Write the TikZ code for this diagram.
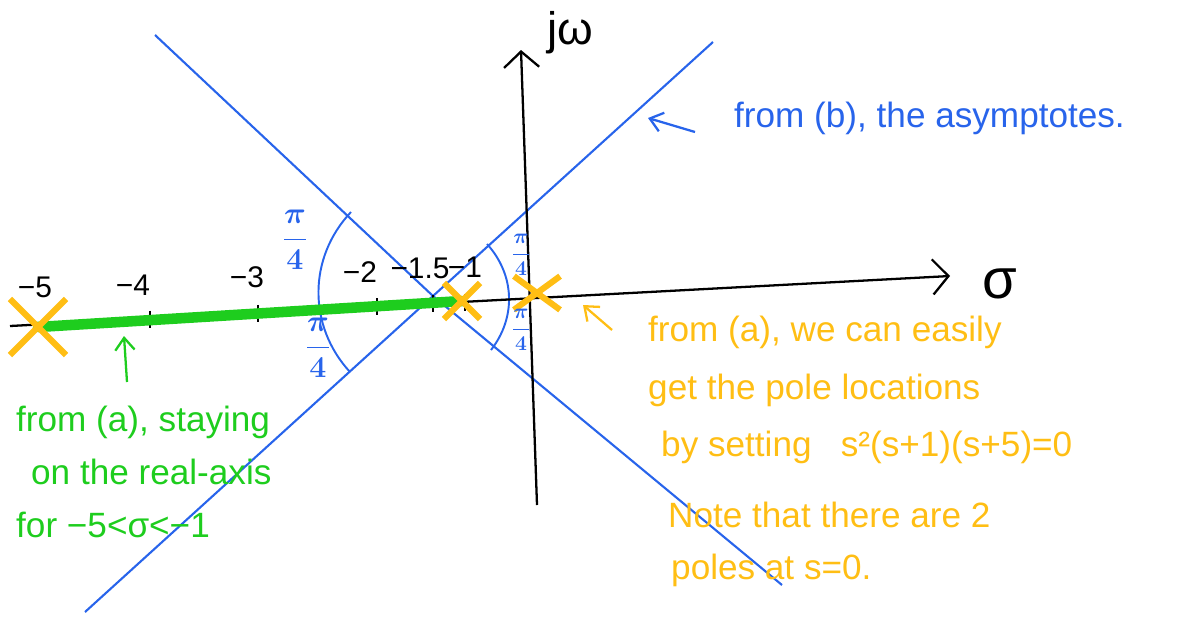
\documentclass[tikz,border=0pt]{standalone}
\usepackage{fontspec}
\setmainfont{Liberation Sans}
\usetikzlibrary{arrows.meta, shapes.misc, positioning}
\definecolor{penblue}{RGB}{40,100,235}
\definecolor{pengreen}{RGB}{30,205,30}
\definecolor{penorange}{RGB}{255,190,20}

\begin{document}
\begin{tikzpicture}[x=0.02cm, y=-0.02cm,
    axisline/.style={draw=black, line width=1.3pt},
    asymline/.style={draw=penblue, line width=1.2pt},
    anglearc/.style={draw=penblue, line width=1.1pt},
    locus/.style={draw=pengreen, line width=6pt, line cap=round},
    pole/.style={cross out, draw=penorange, line width=3.5pt, inner sep=0pt, minimum width=#1, minimum height=#1},
    hint/.style={line width=1.3pt, -{Straight Barb[length=7pt,width=11pt]}},
    note/.style={anchor=west, font=\fontsize{20}{24}\selectfont},
    ticklbl/.style={font=\fontsize{17}{20}\selectfont},
    anglelbl/.style={text=penblue, inner sep=0pt, font=\fontsize{#1}{#1}\selectfont\boldmath}
]
    \useasboundingbox (0,0) rectangle (1193,616);

    % Asymptotes from the centroid
    \coordinate (cent) at (433,296);
    \coordinate (asym1-a) at (155,35);
    \coordinate (asym1-b) at (782,585);
    \coordinate (asym2-a) at (85,612);
    \coordinate (asym2-b) at (713,42);
    \draw[asymline] (asym1-a) -- (cent) -- (asym1-b);
    \draw[asymline] (asym2-a) -- (cent) -- (asym2-b);

    % Angle arcs
    \coordinate (larc-a) at (351,212);
    \coordinate (larc-b) at (350,372);
    \coordinate (rarc-a) at (487,244);
    \coordinate (rarc-b) at (491,350);
    \draw[anglearc] (larc-a) to[bend right=43] (larc-b);
    \draw[anglearc] (rarc-a) to[bend left=40] (rarc-b);

    % Axes
    \coordinate (re-a) at (10,326);
    \coordinate (re-b) at (950,276);
    \coordinate (im-a) at (537,505);
    \coordinate (im-b) at (521,50);
    \draw[axisline, -{Straight Barb[length=9pt,width=20pt]}] (re-a) -- (re-b);
    \draw[axisline, -{Straight Barb[length=9pt,width=20pt]}] (im-a) -- (im-b);
    \node[font=\fontsize{32}{32}\selectfont] (sigma) at (1000,284) {σ};
    \node[font=\fontsize{26}{26}\selectfont] (jw) at (570,33) {jω};

    % Ticks and labels
    \foreach \x in {150,258,377,433,465}
        \draw[axisline, line width=1pt] (\x,{326-0.0533*(\x-10)-8}) -- ++(0,17);
    \node[ticklbl] (t5) at (35,287) {−5};
    \node[ticklbl] (t4) at (133,285) {−4};
    \node[ticklbl] (t3) at (247,277) {−3};
    \node[ticklbl] (t2) at (360,272) {−2};
    \node[ticklbl] (t15) at (420,268) {−1.5};
    \node[ticklbl] (t1) at (465,267) {−1};

    % Root locus on the real axis
    \coordinate (c5) at (38,327);
    \coordinate (c1) at (462,301);
    \coordinate (c0) at (537,293);
    \draw[locus] (c5) -- (c1);

    % Poles
    \node[pole=1cm] (p5) at (c5) {};
    \node[pole=0.6cm] (p1) at (c1) {};
    \node[pole=0.8cm, minimum height=0.55cm] (p0) at (c0) {};

    % Angle labels
    \node[anglelbl=17] (ang-lt) at (295,240) {$\displaystyle\frac{\pi}{4}$};
    \node[anglelbl=17] (ang-lb) at (318,348) {$\displaystyle\frac{\pi}{4}$};
    \node[anglelbl=13] (ang-rt) at (521,255) {$\displaystyle\frac{\pi}{4}$};
    \node[anglelbl=13] (ang-rb) at (521,330) {$\displaystyle\frac{\pi}{4}$};

    % Notes
    \coordinate (blue-tail) at (695,132);
    \coordinate (blue-tip) at (648,118);
    \draw[hint, penblue] (blue-tail) -- (blue-tip);
    \node[note, text=penblue] (asym-note) at (728,118) {from (b), the asymptotes.};

    \coordinate (orange-tail) at (612,330);
    \coordinate (orange-tip) at (583,305);
    \draw[hint, penorange] (orange-tail) -- (orange-tip);
    \node[note, text=penorange] (pole-l1) at (642,332) {from (a), we can easily};
    \node[note, text=penorange] (pole-l2) at (642,390) {get the pole locations};
    \node[note, text=penorange] (pole-l3) at (655,447) {by setting \ \ s²(s+1)(s+5)=0};
    \node[note, text=penorange] (pole-l4) at (662,515) {Note that there are 2};
    \node[note, text=penorange] (pole-l5) at (665,570) {poles at s=0.};

    \coordinate (green-tail) at (127,382);
    \coordinate (green-tip) at (124,336);
    \draw[hint, pengreen] (green-tail) -- (green-tip);
    \node[note, text=pengreen] (real-l1) at (10,422) {from (a), staying};
    \node[note, text=pengreen] (real-l2) at (25,472) {on the real-axis};
    \node[note, text=pengreen] (real-l3) at (10,525) {for −5<σ<−1};
\end{tikzpicture}
\end{document}
